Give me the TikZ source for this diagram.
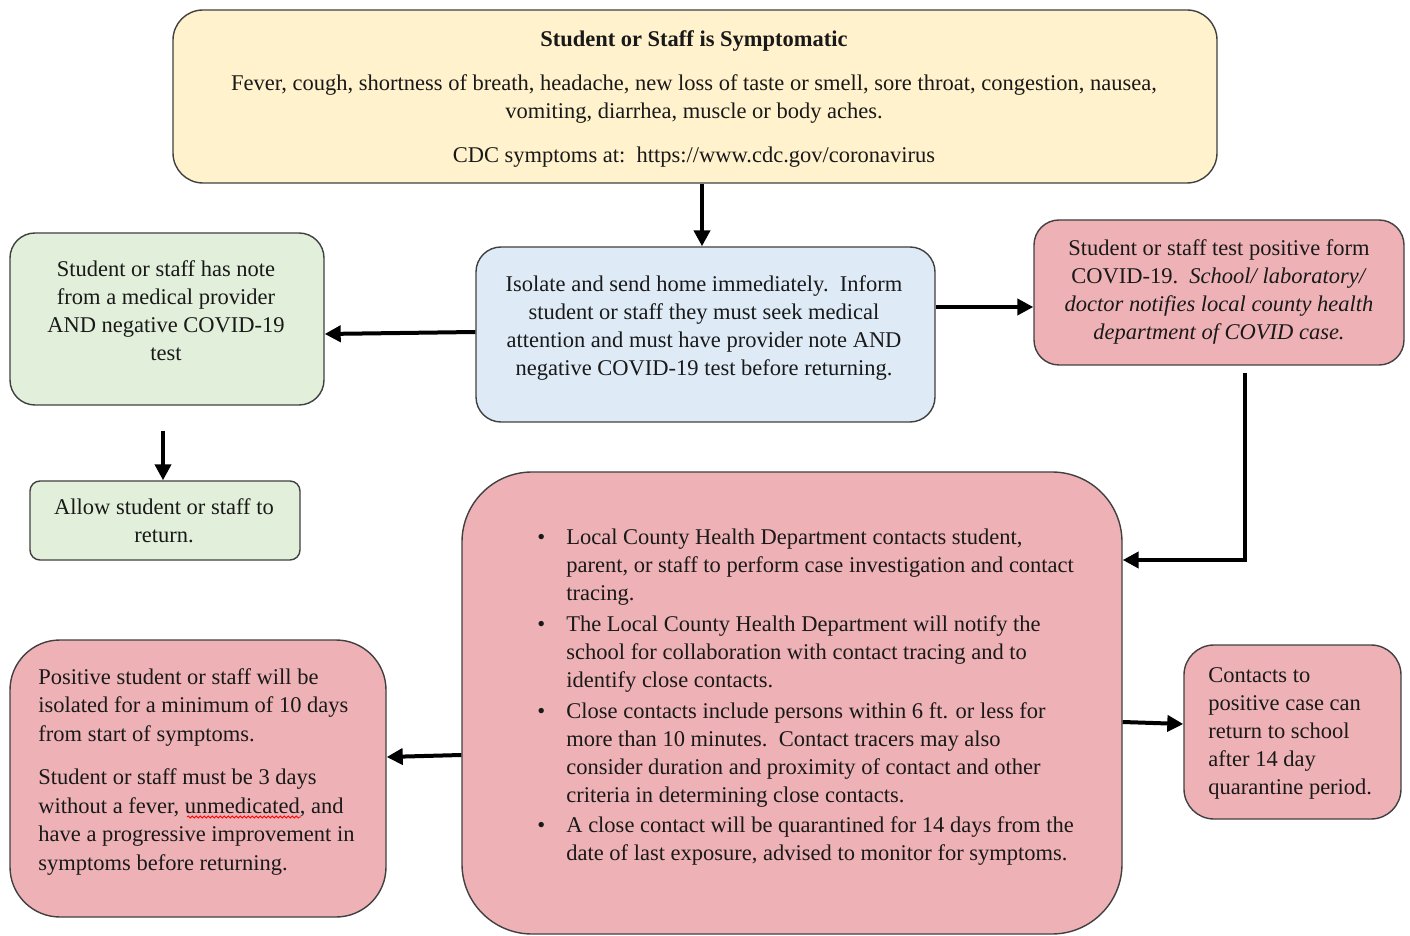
\documentclass[tikz,border=0pt]{standalone}
\usepackage{fontspec}
\setmainfont{Liberation Serif}
\usetikzlibrary{arrows.meta,calc,decorations.pathmorphing}
\definecolor{cyellow}{RGB}{255,242,204}
\definecolor{cgreen}{RGB}{226,239,218}
\definecolor{cblue}{RGB}{222,235,247}
\definecolor{cpink}{RGB}{238,178,182}
\definecolor{cborder}{RGB}{64,64,64}
\newcommand{\bul}{\makebox[14.5pt][l]{\textbullet}}
\newcommand{\ind}{\hspace*{14.5pt}}
\begin{document}
\begin{tikzpicture}[x=0.5pt,y=-0.5pt,
  box/.style={draw=cborder,line width=0.7pt,inner sep=0pt,rectangle},
  txt/.style={inner sep=0pt,font=\fontsize{11.25}{14}\selectfont,text=black!90},
  arr/.style={line width=2pt,-{Triangle[length=8pt,width=8pt]}}]
\useasboundingbox (0,0) rectangle (1410,936);
% boxes
\node[box,fill=cyellow,rounded corners=15pt,minimum width=522pt,minimum height=86.5pt] (top) at (695,96.5) {};
\node[box,fill=cgreen,rounded corners=12.5pt,minimum width=157pt,minimum height=86pt] (green1) at (167,319) {};
\node[box,fill=cgreen,rounded corners=5pt,minimum width=135pt,minimum height=39.5pt] (green2) at (165,520.5) {};
\node[box,fill=cblue,rounded corners=12.5pt,minimum width=229.5pt,minimum height=87.5pt] (blue) at (705.5,334.5) {};
\node[box,fill=cpink,rounded corners=12.5pt,minimum width=185pt,minimum height=72.5pt] (pink1) at (1219,292.5) {};
\node[box,fill=cpink,rounded corners=35pt,minimum width=330pt,minimum height=231pt] (big) at (792,703) {};
\node[box,fill=cpink,rounded corners=25pt,minimum width=188pt,minimum height=138.5pt] (left) at (198,778.5) {};
\node[box,fill=cpink,rounded corners=15pt,minimum width=108.5pt,minimum height=87pt] (right) at (1292.5,732) {};
% texts
\node[txt,align=center] (toptxt) at (694,99) {\textbf{Student or Staff is Symptomatic}\\[8pt]
Fever, cough, shortness of breath, headache, new loss of taste or smell, sore throat, congestion, nausea,\\
vomiting, diarrhea, muscle or body aches.\\[8pt]
CDC symptoms at:\ \ https://www.cdc.gov/coronavirus};
\node[txt,align=center] (green1txt) at (166,311) {Student or staff has note\\from a medical provider\\AND negative COVID-19\\test};
\node[txt,align=center] (green2txt) at (164,520.5) {Allow student or staff to\\return.};
\node[txt,align=center] (bluetxt) at (704,328.5) {Isolate and send home immediately.\ \ Inform\\student or staff they must seek medical\\attention and must have provider note AND\\negative COVID-19 test before returning.};
\node[txt,align=center] (pink1txt) at (1219,292) {Student or staff test positive form\\COVID-19.\ \ \textit{School/ laboratory/}\\\textit{doctor notifies local county health}\\\textit{department of COVID case.}};
\node[txt,align=left,anchor=west] (bigtxt) at (537,697.5) {\bul Local County Health Department contacts student,\\
\ind parent, or staff to perform case investigation and contact\\
\ind tracing.\\[1.3pt]
\bul The Local County Health Department will notify the\\
\ind school for collaboration with contact tracing and to\\
\ind identify close contacts.\\[1.3pt]
\bul Close contacts include persons within 6 ft. or less for\\
\ind more than 10 minutes.\ \ Contact tracers may also\\
\ind consider duration and proximity of contact and other\\
\ind criteria in determining close contacts.\\[1.3pt]
\bul A close contact will be quarantined for 14 days from the\\
\ind date of last exposure, advised to monitor for symptoms.};
\node[txt,align=left,anchor=west,font=\fontsize{11.25}{14.25}\selectfont] (lefttxt) at (38,772) {Positive student or staff will be\\isolated for a minimum of 10 days\\from start of symptoms.\\[7.5pt]
Student or staff must be 3 days\\without a fever, unmedicated, and\\have a progressive improvement in\\symptoms before returning.};
\node[txt,align=left,anchor=west] (righttxt) at (1208,733) {Contacts to\\positive case can\\return to school\\after 14 day\\quarantine period.};
% spell-check underline
\draw[red,line width=0.4pt,decorate,decoration={snake,segment length=2pt,amplitude=0.5pt}] (187,817) -- (301,817);
% connectors
\draw[arr] ([xshift=3.5pt]top.south) -- ([xshift=-1.75pt]blue.north);
\draw[arr] ([yshift=1.25pt]blue.west) -- ([yshift=-7.5pt]green1.east);
\draw[arr] ([yshift=13.75pt]blue.east) -- ([yshift=-7.25pt]pink1.west);
\draw[arr] ([xshift=-2pt,yshift=-12.5pt]green1.south) -- ([xshift=-1pt]green2.north);
\draw[arr] ([xshift=13pt,yshift=-3.5pt]pink1.south) |- ([yshift=71.5pt]big.east);
\draw[arr] ([yshift=-26pt]big.west) -- ([yshift=10.75pt]left.east);
\draw[arr] ([yshift=-9.5pt]big.east) -- ([yshift=4pt]right.west);
\end{tikzpicture}
\end{document}
